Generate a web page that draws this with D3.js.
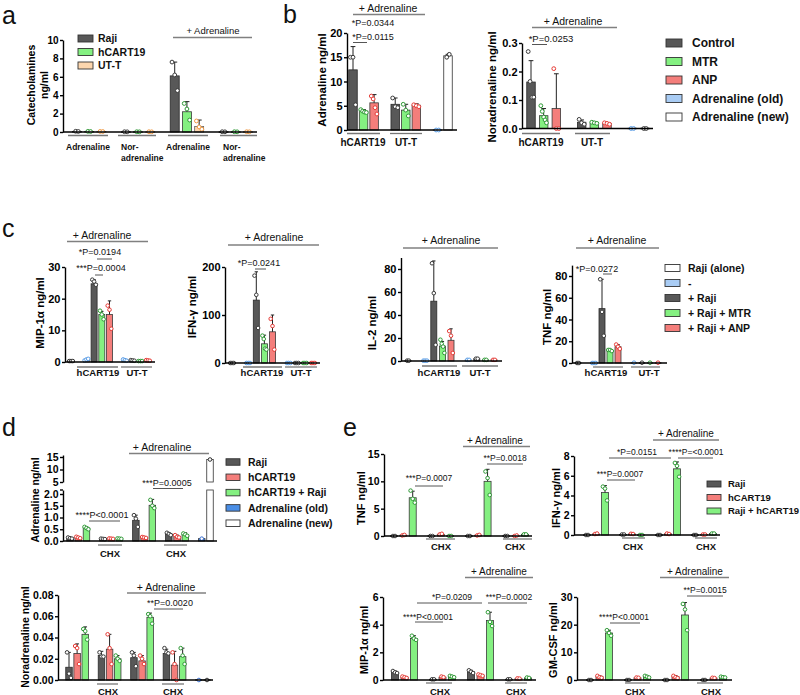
<!DOCTYPE html>
<html><head><meta charset="utf-8">
<script src="https://cdn.jsdelivr.net/npm/d3@7"></script>
<style>body{margin:0;background:#fff}</style>
</head><body><script>
// ================= DATA =================
// Panel a
const aSeries = ['Raji','hCART19','UT-T'];
const aGroups = ['Adrenaline','Nor-|adrenaline','Adrenaline','Nor-|adrenaline'];
const aSlots = [0,1,2,4,5,6,8,9,10,12,13,14];
const aKinds = ['dark','green','peach','dark','green','peach','dark','green','peach','dark','green','peach'];
const aMeans = [0.06,0.06,0.06, 0.03,0.03,0.03, 6.1,2.2,0.6, 0.03,0.03,0.03];
const aSD = [0,0,0, 0,0,0, 1.5,1.1,0.7, 0,0,0];
const aPts = [[0.08,0.06],[0.07,0.05],[0.06,0.05],[0.03,0.02],[0.03,0.02],[0.03,0.02],[7.6,6.2,4.5],[3.1,2.5,1.3],[1.2,0.55,0.3],[0.03,0.02],[0.03,0.02],[0.03,0.02]];
const aTicks = [0,2,4,6,8,10];

// Panel b
const bSeries = ['Control','MTR','ANP','Adrenaline (old)','Adrenaline (new)'];
const bGroups = ['hCART19','UT-T'];
const bSlots = [0,1,2,4,5,6,8,9];
const bKinds = ['dark','green','red','dark','green','red','blue','white'];
const bAdrMeans = [12.4,3.9,5.6, 5.3,4.1,5.1, 0.05,15.3];
const bAdrSD = [4.8,0.3,1.7, 1.3,1.2,0.3, 0,0.3];
const bAdrPts = [[15,15,5.2],[4.2,3.9,3.7,3.6],[7.0,6.4,4.6,3.3],[6.6,4.8,4.6],[5.3,4.1,2.9],[5.2,5.0,4.8],[0,0],[15.0,15.6]];
const bAdrTicks = [0,5,10,15,20];
const bNorMeans = [0.163,0.045,0.07, 0.022,0.02,0.018, 0.001,0.001];
const bNorSD = [0.075,0.025,0.122, 0.008,0.003,0.003, 0,0];
const bNorPts = [[0.27,0.165,0.11,0.11],[0.08,0.06,0.04,0.03,0.02],[0.21,0.0,0.0],[0.032,0.02,0.015],[0.022,0.02,0.018],[0.02,0.018,0.015],[0,0],[0,0]];
const bNorTicks = [0,0.1,0.2,0.3];

// Panel c
const cSeries = ['Raji (alone)','-','+ Raji','+ Raji + MTR','+ Raji + ANP'];
const cGroups = ['hCART19','UT-T'];
const cSlots = [0,2,3,4,5,7,8,9,10];
const cKinds = ['white','blue','dark','green','red','blue','dark','green','red'];
const cMipMeans = [0.3,0.6,24.7,15.0,15.0, 0.6,0.5,0.3,0.5];
const cMipSD = [0,0,1.3,1.0,4.3, 0,0,0,0];
const cMipPts = [[0.3,0.3,0.3],[0.5,0.8,1.0],[26,25.4,24.4],[16.2,15,13.5],[17.8,16.5,10.5],[0.8,0.6,0.4],[0.6,0.5,0.4],[0.3,0.3,0.3],[0.6,0.5,0.4]];
const cMipTicks = [0,10,20,30];
const cIfnMeans = [0.5,0.5,131,40,65, 0.5,0.5,0.5,0.5];
const cIfnSD = [0,0,59,18,35, 0,0,0,0];
const cIfnPts = [[0,0,0],[0,0,0],[182,142,73],[57,50,30,28],[92,77,28],[0,0,0],[0,0,0],[0,0,0],[0,0,0]];
const cIfnTicks = [0,100,200];
const cIl2Means = [0.3,0.3,52,13,18, 1,2,1,1];
const cIl2SD = [0,0,35,4,10, 0,0,0,0];
const cIl2Pts = [[0.3,0.3],[0.3,0.3,0.3],[85,59,14],[18.5,15,12.5,7],[26,22,7],[1,1],[2,2],[1,1],[1,1]];
const cIl2Ticks = [0,20,40,60,80];
const cTnfMeans = [0.3,0.3,50,11.5,15, 0.3,0.3,0.3,0.3];
const cTnfSD = [0,0,27,0.7,2, 0,0,0,0];
const cTnfPts = [[0,0],[0,0,0],[77,47,25],[12,12,11],[17,15,13],[0.3],[0.3],[0.3],[0.3]];
const cTnfTicks = [0,20,40,60,80];

// Panel d
const dSeries = ['Raji','hCART19','hCART19 + Raji','Adrenaline (old)','Adrenaline (new)'];
const dSlots = [0,1,2,4,5,6,8,9,10,12,13,14,16,17];
const dKinds = ['dark','red','green','dark','red','green','dark','red','green','dark','red','green','blue2','white'];
const dAdrMeans = [0.13,0.15,0.55, 0.09,0.1,0.1, 0.88,0.15,1.52, 0.3,0.2,0.28, 0.1,14.0];
const dAdrSD = [0.02,0.03,0.05, 0.01,0.01,0.01, 0.22,0.02,0.25, 0.05,0.05,0.07, 0,0.2];
const dAdrPts = [[0.15,0.12,0.1],[0.18,0.15,0.12],[0.6,0.55,0.5],[0.1,0.09,0.08],[0.11,0.1,0.09],[0.11,0.1,0.09],[1.1,0.95,0.6],[0.17,0.15,0.13],[1.75,1.5,1.4],[0.35,0.3,0.25],[0.25,0.18,0.15],[0.32,0.28,0.22],[0.1],[14.0]];
const dAdrTicksLow = [0,0.5,1.0,1.5,2.0];
const dAdrTicksHigh = [5,10,15];
const dNorMeans = [0.012,0.025,0.043, 0.023,0.029,0.02, 0.021,0.018,0.059, 0.025,0.014,0.022, 0.0003,0.0003];
const dNorSD = [0.014,0.009,0.007, 0.004,0.014,0.003, 0.005,0.005,0.004, 0.004,0.013,0.008, 0,0];
const dNorPts = [[0.026,0.006,0.002],[0.032,0.03,0.015],[0.048,0.046,0.038],[0.026,0.022,0.022],[0.043,0.03,0.015],[0.023,0.02,0.018],[0.026,0.023,0.013],[0.023,0.02,0.015],[0.062,0.06,0.053],[0.03,0.026,0.025],[0.026,0.015,0.0],[0.03,0.023,0.015],[0],[0]];
const dNorTicks = [0,0.02,0.04,0.06,0.08];

// Panel e
const eSeries = ['Raji','hCART19','Raji + hCART19'];
const eSlots = [0,1,2,4,5,6,8,9,10,12,13,14];
const eKinds = ['dark','red','green','dark','red','green','dark','red','green','dark','red','green'];
const eTnfMeans = [0.05,0.15,7.0, 0.05,0.3,0.05, 0.05,0.15,10.0, 0.05,0.05,0.3];
const eTnfSD = [0,0,1.2, 0,0,0, 0,0,2.2, 0,0,0];
const eTnfPts = [[0,0],[0.1,0.2],[8.3,6.8,6.1],[0,0],[0.3,0.4],[0,0],[0,0],[0.1,0.2],[11.8,10.6,7.5],[0,0],[0,0.1],[0.3,0.3]];
const eTnfTicks = [0,5,10,15];
const eIfnMeans = [0.02,0.1,4.3, 0.05,0.1,0.02, 0.02,0.12,6.7, 0.02,0.05,0.15];
const eIfnSD = [0,0,0.7, 0,0,0, 0,0,0.7, 0,0,0];
const eIfnPts = [[0,0],[0.1,0.15],[4.9,4.7,3.5],[0.05,0.05],[0.12,0.1],[0,0],[0,0],[0.15,0.1],[7.3,7.0,5.9],[0,0],[0.05,0.05],[0.15,0.15]];
const eIfnTicks = [0,2,4,6,8];
const eMipMeans = [0.55,0.2,3.0, 0.05,0.2,0.25, 0.6,0.35,4.3, 0.05,0.1,0.15];
const eMipSD = [0.1,0.05,0.2, 0,0.05,0.05, 0.1,0.05,0.6, 0,0,0];
const eMipPts = [[0.65,0.55,0.5],[0.25,0.2,0.15],[3.2,3.0,2.9],[0.05,0.05],[0.25,0.2],[0.3,0.25,0.2],[0.7,0.6,0.5],[0.4,0.35,0.3],[4.9,4.2,3.9],[0.05,0.05],[0.12,0.1],[0.18,0.15]];
const eMipTicks = [0,2,4,6];
const eGmMeans = [0.1,1.2,17, 0.1,0.8,1.2, 0.1,1.2,23.5, 0.1,0.7,1.0];
const eGmSD = [0,0.3,1, 0,0.2,0.3, 0,0.4,4.5, 0,0.1,0.2];
const eGmPts = [[0,0],[1.5,1.0,0.8],[18,17,16],[0,0],[0.9,0.8],[1.5,1.2,0.9],[0,0],[1.5,1.0,0.7],[27.5,25.5,18],[0,0],[0.8,0.7],[1.2,1.0,0.9]];
const eGmTicks = [0,10,20,30];

// ================= STYLE / LAYOUT =================
const FONT = '"Liberation Sans", Arial, Helvetica, sans-serif';
const KIND = {
  dark:{fill:'#585858', stroke:'#2a2a2a', pt:'#3a3a3a'},
  green:{fill:'#84f081', stroke:'#3a3a3a', pt:'#2f9a36'},
  red:{fill:'#f47e7b', stroke:'#3a3a3a', pt:'#e63a35'},
  peach:{fill:'#fcd6ae', stroke:'#666', pt:'#f09a45'},
  blue:{fill:'#a9ccf4', stroke:'#666', pt:'#5a9de6'},
  blue2:{fill:'#4a8ee6', stroke:'#333', pt:'#3a6fd0'},
  white:{fill:'#ffffff', stroke:'#333', pt:'#333'}
};
const svg = d3.select('body').append('svg').attr('width',800).attr('height',695).style('background','#fff');

function txt(x,y,s,fs,opt={}) {
  return svg.append('text').attr('x',x).attr('y',y).text(s)
    .attr('font-family',FONT).attr('font-size',fs)
    .attr('font-weight',opt.bold?'bold':'normal')
    .attr('text-anchor',opt.anchor||'middle').attr('fill',opt.fill||'#111');
}
function hl(x1,x2,y,c,w) {
  svg.append('line').attr('x1',x1).attr('x2',x2).attr('y1',y).attr('y2',y).attr('stroke',c||'#808080').attr('stroke-width',w||1.4);
}
function ylab(lines,x,y,fs) {
  const t = svg.append('text').attr('transform',`translate(${x},${y}) rotate(-90)`)
    .attr('font-family',FONT).attr('font-size',fs).attr('font-weight','bold').attr('text-anchor','middle').attr('fill','#000');
  lines.forEach((l,i)=>t.append('tspan').attr('x',0).attr('dy', i===0 ? (0.35 - (lines.length-1)*0.6)+'em' : '1.2em').text(l));
}
function legend(labels,kinds,x,y0,dy,tx,w,h,fs) {
  const g = svg.append('g');
  labels.forEach((l,i)=>{
    const yy = y0 + i*dy;
    g.append('rect').attr('x',x).attr('y',yy-h/2).attr('width',w).attr('height',h)
      .attr('fill',KIND[kinds[i]].fill).attr('stroke','#333').attr('stroke-width',0.9);
    g.append('text').attr('x',tx).attr('y',yy).attr('dy','0.36em').text(l)
      .attr('font-family',FONT).attr('font-size',fs).attr('font-weight','bold').attr('fill','#111');
  });
}
function styleAxis(ax, fs) {
  ax.select('.domain').attr('stroke','#000').attr('stroke-width',1.4);
  ax.selectAll('.tick line').attr('stroke','#000').attr('stroke-width',1.4);
  ax.selectAll('.tick text').attr('font-family',FONT).attr('font-weight','bold').attr('font-size',fs).attr('fill','#000');
}

function panel(L, slots, kinds, means, sds, pts, ticks) {
  const x = d3.scaleLinear().domain([slots[0], slots[slots.length-1]]).range(L.slotPx);
  const yL = d3.scaleLinear().domain([0, L.refVal]).range([L.y0, L.refPx]);
  const B = L.brk;
  const yU = B ? d3.scaleLinear().domain(B.upDom).range(B.upPx) : null;
  const yf = v => (B && v > B.lowMax) ? yU(v) : yL(v);
  const bw = L.bw;
  const g = svg.append('g');
  const items = slots.map((s,i)=>({s, k:kinds[i], m:means[i], sd:sds[i], p:pts[i]}));
  const rects = [];
  items.forEach(d=>{
    if (B && d.m > B.lowMax) {
      rects.push({s:d.s,k:d.k,top:yL(B.lowMax),bot:L.y0});
      rects.push({s:d.s,k:d.k,top:yU(d.m),bot:yU(B.upDom[0])});
    } else rects.push({s:d.s,k:d.k,top:yL(d.m),bot:L.y0});
  });
  g.selectAll('rect.bar').data(rects).join('rect').attr('class','bar')
    .attr('x',d=>x(d.s)-bw/2).attr('width',bw)
    .attr('y',d=>d.top).attr('height',d=>Math.max(0.6,d.bot-d.top))
    .attr('fill',d=>KIND[d.k].fill).attr('stroke',d=>KIND[d.k].stroke).attr('stroke-width',0.8);
  const eb = items.filter(d=>d.sd>0);
  g.selectAll('line.eb').data(eb).join('line').attr('class','eb')
    .attr('x1',d=>x(d.s)).attr('x2',d=>x(d.s)).attr('y1',d=>yf(d.m)).attr('y2',d=>yf(d.m+d.sd))
    .attr('stroke','#222').attr('stroke-width',1);
  g.selectAll('line.cap').data(eb).join('line').attr('class','cap')
    .attr('x1',d=>x(d.s)-bw*0.28).attr('x2',d=>x(d.s)+bw*0.28).attr('y1',d=>yf(d.m+d.sd)).attr('y2',d=>yf(d.m+d.sd))
    .attr('stroke','#222').attr('stroke-width',1);
  const P = items.flatMap(d=>{
    const n = d.p.length;
    const sp = n>1 ? Math.min(bw*0.3, bw*0.66/(n-1)) : 0;
    return d.p.map((v,j)=>({cx:x(d.s)+(j-(n-1)/2)*sp, v, k:d.k}));
  });
  g.selectAll('circle').data(P).join('circle')
    .attr('cx',d=>d.cx).attr('cy',d=>yf(d.v)).attr('r',L.pr||1.9)
    .attr('fill','#fff').attr('stroke',d=>KIND[d.k].pt).attr('stroke-width',1);
  const fmt = L.fmt ? d3.format(L.fmt) : d3.format('d');
  const yAx = d3.scaleLinear().domain([0, L.axMax]).range([L.y0, yL(L.axMax)]);
  const ax = g.append('g').attr('transform',`translate(${L.ax},0)`)
    .call(d3.axisLeft(yAx).tickValues(ticks).tickFormat(fmt).tickSize(3).tickSizeOuter(0).tickPadding(1.5));
  styleAxis(ax, L.tfs||10);
  if (B) {
    const yAxU = d3.scaleLinear().domain([B.upDom[0], B.upAxMax]).range([yU(B.upDom[0]), yU(B.upAxMax)]);
    const axU = g.append('g').attr('transform',`translate(${L.ax},0)`)
      .call(d3.axisLeft(yAxU).tickValues(B.upTicks).tickFormat(d3.format('d')).tickSize(3).tickSizeOuter(0).tickPadding(1.5));
    styleAxis(axU, L.tfs||10);
    g.append('line').attr('x1',L.ax-3).attr('x2',L.ax).attr('y1',yL(L.axMax)).attr('y2',yL(L.axMax)).attr('stroke','#000').attr('stroke-width',1.4);
  }
  g.append('line').attr('x1',L.ax).attr('x2',L.end).attr('y1',L.y0).attr('y2',L.y0).attr('stroke','#000').attr('stroke-width',1.5);
  return {x, y:yf};
}

// ================= PANEL LETTERS =================
[['a',2,24],['b',283,23],['c',2,237],['d',2,436],['e',343,436]].forEach(([s,x,y])=>{
  svg.append('text').attr('x',x).attr('y',y).text(s).attr('font-family',FONT).attr('font-size',25).attr('fill','#111');
});

// ================= PANEL a =================
panel({ax:63,y0:132,refVal:10,refPx:40,axMax:10,slotPx:[77,248],end:257,bw:9,tfs:10},
  aSlots,aKinds,aMeans,aSD,aPts,aTicks);
ylab(['Catecholamines','ng/ml'],38,85,10.5);
legend(aSeries,['dark','green','peach'],78,38.5,13.5,98,15,7,10.5);
txt(213,34,'+ Adrenaline',9.5); hl(173,252,37.5);
[[68,108],[118,156],[168,208],[220,257]].forEach((r,i)=>{
  hl(r[0],r[1],135.5,'#777',1.3);
  const parts = aGroups[i].split('|');
  if (parts.length===1) txt((r[0]+r[1])/2,149.5,parts[0],8.5,{bold:true});
  else { txt(r[0]+3,149.5,parts[0],8.5,{bold:true,anchor:'start'}); txt(r[0]+3,160.5,parts[1],8.5,{bold:true,anchor:'start'}); }
});

// ================= PANEL b =================
panel({ax:347,y0:130,refVal:20,refPx:33,axMax:20,slotPx:[353,448],end:457,bw:8.5,tfs:11},
  bSlots,bKinds,bAdrMeans,bAdrSD,bAdrPts,bAdrTicks);
ylab(['Adrenaline ng/ml'],322,80,11.5);
txt(388,11.5,'+ Adrenaline',10.5); hl(353,425,14.5);
txt(373,26,'*P=0.0344',9);
txt(373,39.5,'*P=0.0115',9); hl(353,367,42.5,'#555',1);
hl(347,380,133.5,'#777',1.3); hl(390,422,133.5,'#777',1.3);
txt(363,146,bGroups[0],10,{bold:true}); txt(406,146,bGroups[1],10,{bold:true});

panel({ax:522,y0:128.5,refVal:0.3,refPx:43,axMax:0.3,slotPx:[531,645],end:653,bw:8.5,tfs:11,fmt:'.1f'},
  bSlots,bKinds,bNorMeans,bNorSD,bNorPts,bNorTicks);
ylab(['Noradrenaline ng/ml'],492,87,11.5);
txt(573,24.5,'+ Adrenaline',10.5); hl(532,617,27.5);
txt(551,42,'*P=0.0253',9.5); hl(532,547,44.5,'#555',1);
hl(522,560,133.5,'#777',1.3); hl(575,610,133.5,'#777',1.3);
txt(541,146,bGroups[0],10,{bold:true}); txt(592,146,bGroups[1],10,{bold:true});
legend(bSeries,['dark','green','red','blue','white'],666,43,18.5,692,16,8,12);

// ================= PANEL c =================
const cFs = 9;
panel({ax:65,y0:362,refVal:30,refPx:267,axMax:30,slotPx:[71,148],end:155,bw:6,tfs:11,pr:1.8},
  cSlots,cKinds,cMipMeans,cMipSD,cMipPts,cMipTicks);
ylab(['MIP-1α ng/ml'],40,313,11.5);
txt(102,239,'+ Adrenaline',10.5); hl(67,148,241.5);
txt(100,254.5,'*P=0.0194',cFs); hl(97,112,259,'#555',1);
txt(101,270.5,'***P=0.0004',cFs); hl(95,103,275,'#555',1);
hl(77,118,367,'#777',1.3); hl(121,152,367,'#777',1.3);
txt(98,375.5,cGroups[0],9.5,{bold:true}); txt(137,375.5,cGroups[1],9.5,{bold:true});

panel({ax:225,y0:363,refVal:200,refPx:267,axMax:200,slotPx:[232,313],end:320,bw:6,tfs:11,pr:1.8},
  cSlots,cKinds,cIfnMeans,cIfnSD,cIfnPts,cIfnTicks);
ylab(['IFN-γ ng/ml'],192,307,11.5);
txt(274,241,'+ Adrenaline',10.5); hl(228,319,245);
txt(259,266,'*P=0.0241',cFs); hl(255,266,269,'#555',1);
hl(243,282,367,'#777',1.3); hl(285,317,367,'#777',1.3);
txt(262,375.5,cGroups[0],9.5,{bold:true}); txt(301,375.5,cGroups[1],9.5,{bold:true});

panel({ax:401,y0:361,refVal:80,refPx:269,axMax:90,slotPx:[408,494],end:502,bw:6,tfs:11,pr:1.8},
  cSlots,cKinds,cIl2Means,cIl2SD,cIl2Pts,cIl2Ticks);
ylab(['IL-2 ng/ml'],372,323,11.5);
txt(451,244,'+ Adrenaline',10.5); hl(403,498,248);
hl(422,457,366,'#777',1.3); hl(462,498,366,'#777',1.3);
txt(439,375.5,cGroups[0],9.5,{bold:true}); txt(480,375.5,cGroups[1],9.5,{bold:true});

panel({ax:572,y0:363,refVal:80,refPx:276,axMax:90,slotPx:[578,658],end:667,bw:6,tfs:11,pr:1.8},
  cSlots,cKinds,cTnfMeans,cTnfSD,cTnfPts,cTnfTicks);
ylab(['TNF ng/ml'],547,317,11.5);
txt(617,243.5,'+ Adrenaline',10.5); hl(576,659,248);
txt(597,272,'*P=0.0272',cFs); hl(603,612,274,'#555',1);
hl(593,623,367,'#777',1.3); hl(631,660,367,'#777',1.3);
txt(606,375.5,cGroups[0],9.5,{bold:true}); txt(649,375.5,cGroups[1],9.5,{bold:true});
legend(cSeries,['white','blue','dark','green','red'],665,268,15,688,15,7,10.5);

// ================= PANEL d =================
panel({ax:63,y0:541,refVal:2,refPx:494,axMax:2.17,slotPx:[70,210],end:217,bw:6.5,tfs:10.5,fmt:'.1f',pr:1.8,
  brk:{lowMax:2.17,upDom:[5,15],upPx:[482,457],upAxMax:15.8,upTicks:dAdrTicksHigh}},
  dSlots,dKinds,dAdrMeans,dAdrSD,dAdrPts,dAdrTicksLow);
ylab(['Adrenaline ng/ml'],35,500,10.5);
txt(162,450.5,'+ Adrenaline',10.5); hl(129,209,453.5);
txt(167,485.5,'***P=0.0005',9); hl(153,183,488.5,'#555',1);
txt(102,518,'****P<0.0001',9); hl(89,120,521,'#555',1);
hl(98,122,545,'#777',1.3); hl(164,187,545,'#777',1.3);
txt(110,556.5,'CHX',9.5,{bold:true}); txt(176,556.5,'CHX',9.5,{bold:true});
legend(dSeries,['dark','red','green','blue2','white'],226,462,15.3,248,14,6.5,10.5);

panel({ax:58,y0:680,refVal:0.08,refPx:595,axMax:0.08,slotPx:[69,207],end:213,bw:6.5,tfs:10.5,fmt:'.2f',pr:1.8},
  dSlots,dKinds,dNorMeans,dNorSD,dNorPts,dNorTicks);
ylab(['Noradrenaline ng/ml'],25,637,10.5);
txt(166,590.5,'+ Adrenaline',10.5); hl(127,206,593);
txt(170,605.5,'**P=0.0020',9); hl(154,183,609,'#555',1);
hl(97,118,684,'#777',1.3); hl(162,184,684,'#777',1.3);
txt(108,694.5,'CHX',9.5,{bold:true}); txt(173,694.5,'CHX',9.5,{bold:true});

// ================= PANEL e =================
const eFs = 8.5;
panel({ax:384,y0:536,refVal:15,refPx:454,axMax:15,slotPx:[394,525],end:532,bw:7,tfs:10.5,pr:1.8},
  eSlots,eKinds,eTnfMeans,eTnfSD,eTnfPts,eTnfTicks);
ylab(['TNF ng/ml'],361,498,11);
txt(495,443.5,'+ Adrenaline',10); hl(463,530,446.5);
txt(505,461,'**P=0.0018',eFs); hl(487,523,464,'#555',1);
txt(429,481,'***P=0.0007',eFs); hl(415,443,486,'#555',1);
hl(426,455,539,'#777',1.3); hl(503,532,539,'#777',1.3);
txt(441,549.5,'CHX',9.5,{bold:true}); txt(515,549.5,'CHX',9.5,{bold:true});

panel({ax:574,y0:535,refVal:8,refPx:456,axMax:8,slotPx:[587,713],end:720,bw:7,tfs:10.5,pr:1.8},
  eSlots,eKinds,eIfnMeans,eIfnSD,eIfnPts,eIfnTicks);
ylab(['IFN-γ ng/ml'],556,498,11);
txt(686,437,'+ Adrenaline',10); hl(653,719,440);
txt(637,455,'*P=0.0151',eFs); hl(609,671,458,'#555',1);
txt(696,455,'****P=<0.0001',eFs); hl(678,713,458,'#555',1);
txt(620,477,'***P=0.0007',eFs); hl(607,635,480,'#555',1);
hl(622,645,538,'#777',1.3); hl(695,717,538,'#777',1.3);
txt(633,549.5,'CHX',9.5,{bold:true}); txt(706,549.5,'CHX',9.5,{bold:true});
legend(eSeries,['dark','red','green'],707,484,13.5,728,14,6,9.5);

panel({ax:383,y0:680,refVal:6,refPx:597,axMax:6,slotPx:[395,528],end:536,bw:7,tfs:10.5,pr:1.8},
  eSlots,eKinds,eMipMeans,eMipSD,eMipPts,eMipTicks);
ylab(['MIP-1α ng/ml'],364,640,11);
txt(499,574.5,'+ Adrenaline',10); hl(465,533,577.5);
txt(452,600,'*P=0.0209',eFs); hl(417,482,603,'#555',1);
txt(509,600,'***P=0.0002',eFs); hl(488,527,603,'#555',1);
txt(428,619.5,'****P<0.0001',eFs); hl(415,443,622,'#555',1);
hl(426,452,683,'#777',1.3); hl(505,527,683,'#777',1.3);
txt(440,694.5,'CHX',9.5,{bold:true}); txt(516,694.5,'CHX',9.5,{bold:true});

panel({ax:577,y0:680,refVal:30,refPx:597,axMax:30,slotPx:[590,723],end:732,bw:7,tfs:10.5,pr:1.8},
  eSlots,eKinds,eGmMeans,eGmSD,eGmPts,eGmTicks);
ylab(['GM-CSF ng/ml'],553,640,11);
txt(695,574.5,'+ Adrenaline',10); hl(660,729,577.5);
txt(705,593,'**P=0.0015',eFs); hl(687,723,596,'#555',1);
txt(624,619.5,'****P<0.0001',eFs); hl(610,640,623,'#555',1);
hl(625,650,683,'#777',1.3); hl(697,723,683,'#777',1.3);
txt(635,694.5,'CHX',9.5,{bold:true}); txt(711,694.5,'CHX',9.5,{bold:true});
</script></body></html>
